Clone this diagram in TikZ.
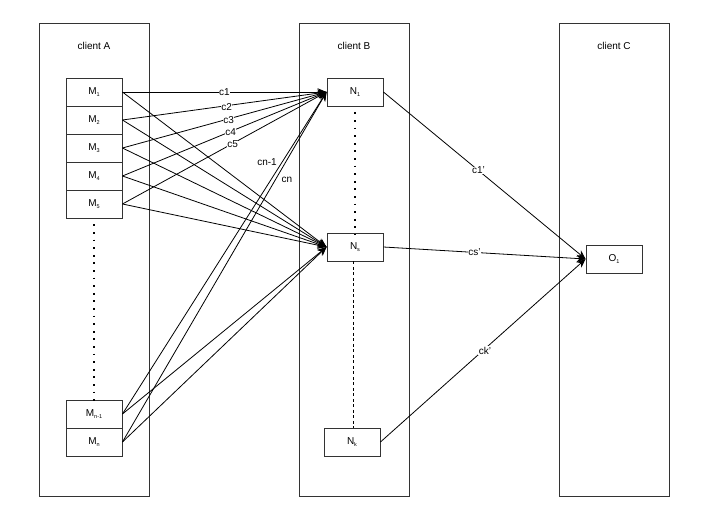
\documentclass[tikz,border=0pt]{standalone}
\usepackage{fontspec}
\setmainfont{Liberation Sans}
\usetikzlibrary{arrows.meta}
\begin{document}
\begin{tikzpicture}[x=1pt,y=-1pt,
  every node/.style={font=\fontsize{10}{12}\selectfont},
  client/.style={draw=black!80, line width=0.9pt, minimum width=110pt, minimum height=473pt, anchor=north west, inner sep=0pt},
  mbox/.style={draw=black!80, line width=0.9pt, minimum width=56pt, minimum height=28pt, inner sep=0pt},
  conn/.style={line width=0.8pt, -{Stealth[length=9pt,width=7.5pt]}},
  lab/.style={fill=white, inner sep=0.5pt, font=\fontsize{10}{12}\selectfont},
  dotline/.style={line width=1.8pt, dash pattern=on 1.8pt off 5.8pt},
  dashline/.style={line width=0.8pt, dash pattern=on 3pt off 2.5pt}
]
\useasboundingbox (0,0) rectangle (709,524);
\fill[white] (0,0) rectangle (709,524);
\newcommand{\sbs}[1]{\raisebox{-0.3ex}{\fontsize{5.5}{6}\selectfont #1}}

\node[client] (cA) at (39,23) {};
\node[client] (cB) at (299,23) {};
\node[client] (cC) at (559,23) {};
\node at (94,46) {client A};
\node at (354,46) {client B};
\node at (614,46) {client C};

\node[mbox] (m1) at (94,92) {M\sbs{1}};
\node[mbox] (m2) at (94,120) {M\sbs{2}};
\node[mbox] (m3) at (94,148) {M\sbs{3}};
\node[mbox] (m4) at (94,176) {M\sbs{4}};
\node[mbox] (m5) at (94,204) {M\sbs{5}};
\node[mbox] (mn1) at (94,414) {M\sbs{n-1}};
\node[mbox] (mn) at (94,442) {M\sbs{n}};

\node[mbox] (n1) at (355,92) {N\sbs{1}};
\node[mbox] (ns) at (355,247) {N\sbs{s}};
\node[mbox] (nk) at (352,442) {N\sbs{k}};

\node[mbox] (o1) at (614,259) {O\sbs{1}};

\draw[dotline] (m5.south) ++(0,6) -- ([yshift=-2pt]mn1.north);
\draw[dotline] (n1.south) ++(0,6) -- ([yshift=-2pt]ns.north);
\draw[dashline] ([xshift=-2pt]ns.south) -- ([xshift=1pt]nk.north);

% M -> Ns
\foreach \m in {m1,m2,m3,m4,m5,mn1,mn}{
  \draw[conn] (\m.east) -- (ns.west);
}
\draw[conn] (mn1.east) -- (n1.west);
\draw[conn] (mn.east) -- (n1.west);
% M -> N1 labeled
\draw[conn] (m1.east) -- node[lab]{c1} (n1.west);
\draw[conn] (m2.east) -- node[lab, pos=0.51, yshift=-1pt]{c2} (n1.west);
\draw[conn] (m3.east) -- node[lab, pos=0.52, yshift=-1pt]{c3} (n1.west);
\draw[conn] (m4.east) -- node[lab, pos=0.53, yshift=-1pt]{c4} (n1.west);
\draw[conn] (m5.east) -- node[lab, pos=0.54, yshift=-1pt]{c5} (n1.west);
\node[fill=white, inner sep=0.5pt] (lcn1) at (267,162) {cn-1};
\node[fill=white, inner sep=0.5pt] (lcn) at (287,180) {cn};

% N -> O1
\draw[conn] (n1.east) -- node[lab, pos=0.47]{c1'} (o1.west);
\draw[conn] (ns.east) -- node[lab, pos=0.45]{cs'} (o1.west);
\draw[conn] (nk.east) -- node[lab, pos=0.5, xshift=2pt]{ck'} (o1.west);
\end{tikzpicture}
\end{document}
